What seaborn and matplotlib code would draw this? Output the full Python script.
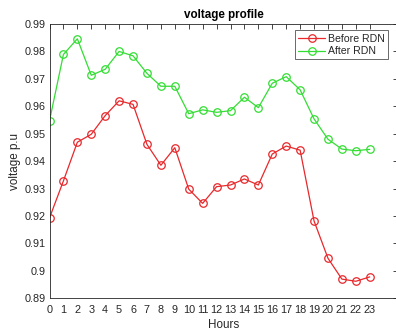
import numpy as np
import pandas as pd
import matplotlib
matplotlib.use("Agg")
import matplotlib.pyplot as plt
import seaborn as sns

hours = list(range(24))
before_rdn = [0.9193, 0.9328, 0.9469, 0.9498, 0.9566, 0.9620, 0.9607, 0.9461,
              0.9385, 0.9449, 0.9298, 0.9246, 0.9307, 0.9313, 0.9335, 0.9313,
              0.9426, 0.9455, 0.9440, 0.9182, 0.9046, 0.8970, 0.8962, 0.8978]
after_rdn = [0.9547, 0.9789, 0.9846, 0.9713, 0.9735, 0.9800, 0.9784, 0.9720,
             0.9673, 0.9673, 0.9573, 0.9587, 0.9578, 0.9584, 0.9633, 0.9595,
             0.9684, 0.9708, 0.9660, 0.9554, 0.9480, 0.9444, 0.9438, 0.9443]
series_names = ["Before RDN", "After RDN"]
yticks = [0.89, 0.9, 0.91, 0.92, 0.93, 0.94, 0.95, 0.96, 0.97, 0.98, 0.99]
ytick_labels = ["0.89", "0.9", "0.91", "0.92", "0.93", "0.94", "0.95", "0.96", "0.97", "0.98", "0.99"]

df = pd.DataFrame({
    "Hours": hours * 2,
    "voltage": before_rdn + after_rdn,
    "series": [series_names[0]] * 24 + [series_names[1]] * 24,
})

sns.set_style("white")
plt.rcParams['font.family'] = ['Liberation Sans', 'DejaVu Sans']

fig = plt.figure(figsize=(3.96, 3.31), dpi=100)
ax = fig.add_axes([0.125, 0.0988, 0.879, 0.8287])

palette = {"Before RDN": "#e8282b", "After RDN": "#33dd33"}
sns.lineplot(data=df, x="Hours", y="voltage", hue="series", palette=palette,
             marker="o", markersize=5.4, markerfacecolor="none",
             markeredgewidth=0.9, linewidth=0.9, ax=ax, legend=True)

for line in ax.get_lines():
    c = line.get_color()
    line.set_markeredgecolor(c)
    line.set_markerfacecolor("none")

ax.set_xlim(0, 25)
ax.set_ylim(0.89, 0.99)
ax.set_xticks(hours)
ax.set_xticklabels([str(h) for h in hours])
ax.set_yticks(yticks)
ax.set_yticklabels(ytick_labels)
ax.tick_params(direction="in", length=3.5, width=0.6, top=True, right=True,
               labelsize=7.8, colors="#262626")
ax.tick_params(axis="x", pad=5)
ax.tick_params(axis="y", pad=2.5)
for s in ax.spines.values():
    s.set_color("#262626")
    s.set_linewidth(0.6)

ax.set_xlabel("Hours", fontsize=8.4, color="#262626", labelpad=3)
ax.set_ylabel("voltage p.u", fontsize=8.4, color="#262626", labelpad=3)
ax.set_title("voltage profile", fontsize=8.4, fontweight="bold", color="#000000", pad=4)

leg = ax.legend(loc="upper right", bbox_to_anchor=(0.982, 0.988), fontsize=7.6,
                frameon=True, fancybox=False, borderpad=0.3, handlelength=2.6,
                handletextpad=0.25, labelspacing=0.25, borderaxespad=0.3)
leg.get_frame().set_edgecolor("#262626")
leg.get_frame().set_linewidth(0.6)
for h in leg.get_lines():
    h.set_markerfacecolor("none")
    h.set_markeredgecolor(h.get_color())

fig.savefig("out.png", dpi=100, facecolor="white")
